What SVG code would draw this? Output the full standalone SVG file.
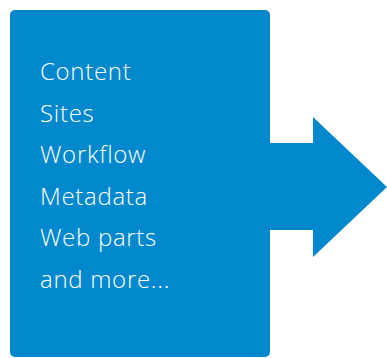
<svg xmlns="http://www.w3.org/2000/svg" width="387" height="358" viewBox="0 0 387 358">
<style>
.fill{fill:#0288cd}
.lbl{font-family:"Open Sans","Liberation Sans",sans-serif;font-size:24px;font-weight:300;letter-spacing:0.7px;fill:#ffffff}
</style>
<g id="connectors">
<path class="fill" d="M268 143 H313 V117 L387 187 L313 257 V230 H268 Z"/>
</g>
<g id="box">
<rect class="fill" x="10" y="10" width="260" height="347" rx="5" ry="5"/>
<text class="lbl" x="40" y="80">Content</text>
<text class="lbl" x="40" y="121.6">Sites</text>
<text class="lbl" x="40" y="163.2">Workflow</text>
<text class="lbl" x="40" y="204.8">Metadata</text>
<text class="lbl" x="40" y="246.4">Web parts</text>
<text class="lbl" x="40" y="288">and more...</text>
</g>
</svg>
